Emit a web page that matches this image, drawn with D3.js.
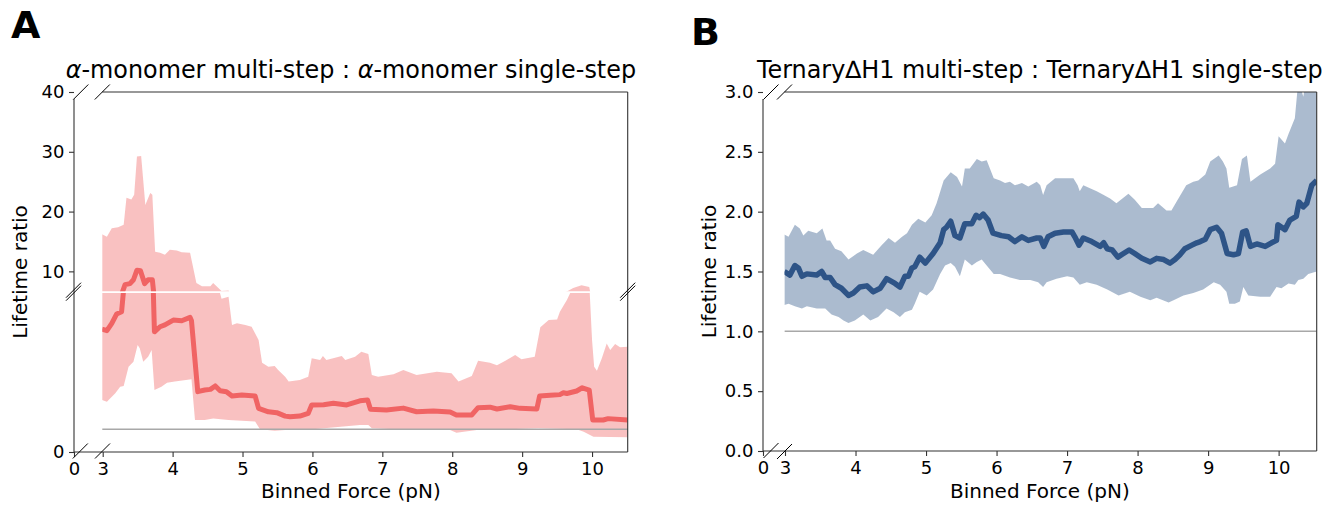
<!DOCTYPE html>
<html>
<head>
<meta charset="utf-8">
<script src="https://cdn.jsdelivr.net/npm/d3@7"></script>
<style>
  body { margin: 0; background: #fff; }
  svg { font-family: 'DejaVu Sans', sans-serif; }
  .axis .domain { display: none; }
  .axis .tick line { stroke: #333; stroke-width: 1.1; }
  .axis .tick text { font-size: 18px; fill: #000; font-family: 'DejaVu Sans', sans-serif; }
  .spine { stroke: #333; stroke-width: 1.1; fill: none; }
  .brk { stroke: #000; stroke-width: 1; }
  .lbl { font-size: 20px; fill: #000; }
  .ttl { font-size: 23.9px; fill: #000; }
  .letter { font-size: 38px; font-weight: bold; fill: #000; }
</style>
</head>
<body>
<script>

// ---- panel A: alpha-monomer ----
var aForceMean = [2.99, 3.06, 3.13, 3.20, 3.27, 3.32, 3.39, 3.44, 3.49, 3.54, 3.60, 3.65, 3.71, 3.74, 3.82, 3.89, 4.01, 4.13, 4.25, 4.27,
  4.36, 4.46, 4.54, 4.61, 4.68, 4.77, 4.85, 4.99, 5.18, 5.23, 5.37, 5.49, 5.61, 5.68, 5.82, 5.94, 5.99, 6.16, 6.30, 6.49,
  6.68, 6.79, 6.83, 7.06, 7.30, 7.49, 7.73, 7.97, 8.06, 8.28, 8.37, 8.54, 8.64, 8.83, 8.97, 9.21, 9.25, 9.40, 9.54, 9.59,
  9.64, 9.78, 9.86, 9.96, 10.01, 10.16, 10.23, 10.51];
var aMean = [5.37, 5.31, 5.63, 6.04, 6.14, 7.78, 7.95, 8.6, 10.2, 10.1, 7.95, 8.6, 8.6, 5.26, 5.48, 5.56, 5.77, 5.74, 5.89, 5.74,
  2.64, 2.71, 2.74, 2.89, 2.68, 2.64, 2.45, 2.49, 2.45, 1.91, 1.76, 1.72, 1.57, 1.54, 1.57, 1.69, 2.06, 2.07, 2.13, 2.06,
  2.24, 2.27, 1.87, 1.84, 1.92, 1.76, 1.79, 1.75, 1.62, 1.62, 1.94, 1.96, 1.88, 1.98, 1.91, 1.88, 2.45, 2.48, 2.51, 2.59,
  2.56, 2.67, 2.81, 2.71, 1.40, 1.40, 1.46, 1.40];

var aForceUpper = [2.99, 3.06, 3.13, 3.22, 3.30, 3.34, 3.41, 3.45, 3.49, 3.55, 3.61, 3.68, 3.71, 3.75, 3.82, 3.89, 3.96, 4.06, 4.13, 4.25,
  4.34, 4.42, 4.54, 4.58, 4.70, 4.80, 4.85, 4.92, 5.04, 5.13, 5.23, 5.28, 5.37, 5.46, 5.51, 5.61, 5.66, 5.82, 5.94, 5.99,
  6.11, 6.15, 6.20, 6.42, 6.47, 6.61, 6.70, 6.80, 6.85, 6.94, 7.16, 7.30, 7.49, 7.78, 7.99, 8.09, 8.28, 8.37, 8.54, 8.64,
  8.76, 8.90, 8.99, 9.18, 9.26, 9.38, 9.50, 9.54, 9.64, 9.73, 9.85, 9.96, 10.0, 10.03, 10.07, 10.14, 10.21, 10.26, 10.33, 10.40,
  10.51];
var aUpper = [16.2, 15.8, 17.2, 17.4, 17.8, 22.3, 22.0, 22.8, 29.2, 29.3, 21.1, 23.1, 22.8, 13.3, 13.1, 12.8, 13.6, 13.5, 13.2, 13.1,
  8.06, 7.5, 7.5, 8.06, 6.7, 6.79, 5.56, 5.63, 5.56, 5.48, 4.90, 3.91, 3.73, 3.76, 3.59, 3.29, 3.08, 3.15, 3.29, 4.10,
  4.02, 4.2, 4.02, 4.2, 4.02, 4.17, 4.39, 4.29, 3.37, 3.29, 3.40, 3.59, 3.37, 3.51, 3.44, 3.08, 3.32, 3.99, 3.91, 3.79,
  3.99, 4.24, 4.06, 4.17, 5.46, 5.77, 5.80, 6.14, 6.65, 7.23, 7.66, 7.39, 4.90, 3.73, 3.56, 4.10, 4.75, 4.46, 4.72, 4.58,
  4.61];

var aForceLower = [2.99, 3.06, 3.18, 3.25, 3.30, 3.37, 3.44, 3.50, 3.53, 3.58, 3.65, 3.70, 3.74, 3.84, 3.92, 4.03, 4.27, 4.32, 4.46, 4.58,
  4.80, 5.18, 5.25, 5.46, 5.61, 6.01, 6.68, 6.80, 6.85, 7.44, 7.97, 8.06, 8.35, 9.23, 9.78, 9.88, 10.02, 10.51];
var aLower = [2.27, 2.20, 2.57, 2.86, 2.89, 3.73, 3.95, 4.68, 4.54, 3.95, 4.17, 4.46, 2.71, 2.86, 3.03, 3.08, 3.18, 1.40, 1.40, 1.47,
  1.40, 1.33, 0.99, 0.93, 0.96, 0.99, 1.18, 1.18, 1.04, 0.96, 0.96, 0.84, 0.96, 1.04, 0.99, 0.89, 0.67, 0.64];

// ---- panel B: Ternary dH1 ----
var bForceMean = [2.99, 3.07, 3.14, 3.19, 3.24, 3.31, 3.45, 3.52, 3.57, 3.64, 3.71, 3.80, 3.90, 3.97, 4.06, 4.16, 4.25, 4.35, 4.44, 4.56,
  4.63, 4.70, 4.75, 4.80, 4.84, 4.91, 4.99, 5.10, 5.20, 5.25, 5.29, 5.35, 5.41, 5.48, 5.55, 5.65, 5.71, 5.76, 5.81, 5.88,
  5.95, 6.07, 6.17, 6.26, 6.36, 6.45, 6.57, 6.62, 6.67, 6.73, 6.83, 6.95, 7.07, 7.11, 7.17, 7.23, 7.35, 7.47, 7.52, 7.57,
  7.64, 7.72, 7.80, 7.88, 7.96, 8.06, 8.18, 8.27, 8.37, 8.46, 8.53, 8.60, 8.67, 8.77, 8.84, 8.89, 8.96, 9.03, 9.12, 9.19,
  9.27, 9.36, 9.43, 9.49, 9.54, 9.60, 9.69, 9.81, 9.90, 9.97, 9.99, 10.09, 10.16, 10.25, 10.29, 10.35, 10.40, 10.47, 10.54];
var bMean = [1.50, 1.47, 1.55, 1.53, 1.46, 1.48, 1.47, 1.50, 1.45, 1.45, 1.39, 1.36, 1.30, 1.32, 1.37, 1.38, 1.33, 1.36, 1.44, 1.40,
  1.37, 1.46, 1.46, 1.53, 1.54, 1.62, 1.57, 1.65, 1.74, 1.85, 1.87, 1.92, 1.80, 1.78, 1.90, 1.90, 1.97, 1.95, 1.98, 1.93,
  1.82, 1.80, 1.79, 1.75, 1.79, 1.76, 1.78, 1.78, 1.71, 1.79, 1.82, 1.83, 1.83, 1.79, 1.72, 1.78, 1.75, 1.71, 1.74, 1.69,
  1.68, 1.62, 1.65, 1.68, 1.65, 1.61, 1.58, 1.61, 1.60, 1.57, 1.60, 1.64, 1.69, 1.72, 1.74, 1.75, 1.77, 1.85, 1.87, 1.82,
  1.65, 1.64, 1.65, 1.83, 1.84, 1.71, 1.73, 1.71, 1.74, 1.76, 1.89, 1.85, 1.93, 1.96, 2.08, 2.04, 2.07, 2.22, 2.26];

var bForceUpper = [2.99, 3.05, 3.14, 3.21, 3.26, 3.33, 3.45, 3.53, 3.59, 3.64, 3.71, 3.80, 3.90, 4.02, 4.11, 4.25, 4.37, 4.47, 4.56, 4.66,
  4.73, 4.80, 4.89, 4.99, 5.08, 5.15, 5.25, 5.35, 5.44, 5.51, 5.55, 5.62, 5.72, 5.79, 5.86, 5.96, 6.05, 6.12, 6.19, 6.26,
  6.36, 6.45, 6.57, 6.62, 6.66, 6.71, 6.83, 7.09, 7.15, 7.18, 7.23, 7.42, 7.52, 7.61, 7.70, 7.87, 7.96, 8.06, 8.22, 8.29,
  8.41, 8.48, 8.55, 8.69, 8.79, 8.86, 8.96, 9.03, 9.15, 9.21, 9.26, 9.30, 9.41, 9.48, 9.55, 9.60, 9.74, 9.88, 9.95, 10.00,
  10.09, 10.14, 10.23, 10.28, 10.35, 10.40, 10.54];
var bUpper = [1.81, 1.79, 1.89, 1.86, 1.80, 1.84, 1.82, 1.86, 1.76, 1.76, 1.69, 1.67, 1.60, 1.65, 1.68, 1.64, 1.72, 1.78, 1.74, 1.79,
  1.82, 1.89, 1.94, 1.91, 1.97, 2.07, 2.26, 2.33, 2.29, 2.21, 2.36, 2.36, 2.44, 2.42, 2.43, 2.28, 2.26, 2.24, 2.25, 2.22,
  2.24, 2.21, 2.25, 2.22, 2.14, 2.22, 2.28, 2.28, 2.22, 2.17, 2.22, 2.17, 2.14, 2.11, 2.07, 2.15, 2.10, 2.03, 2.03, 2.07,
  2.01, 2.01, 2.08, 2.22, 2.25, 2.26, 2.31, 2.42, 2.47, 2.42, 2.36, 2.20, 2.22, 2.44, 2.47, 2.25, 2.31, 2.36, 2.40, 2.63,
  2.57, 2.65, 2.78, 3.10, 2.96, 3.15, 3.25];

var bForceLower = [2.99, 3.05, 3.14, 3.24, 3.31, 3.45, 3.57, 3.66, 3.76, 3.83, 3.90, 3.99, 4.11, 4.21, 4.32, 4.44, 4.54, 4.63, 4.70, 4.80,
  4.84, 4.91, 5.01, 5.10, 5.20, 5.27, 5.35, 5.41, 5.48, 5.55, 5.65, 5.72, 5.79, 5.86, 5.96, 6.05, 6.19, 6.33, 6.48, 6.59,
  6.66, 6.71, 6.85, 7.00, 7.09, 7.18, 7.28, 7.42, 7.57, 7.73, 7.89, 8.04, 8.18, 8.27, 8.44, 8.51, 8.65, 8.79, 8.93, 9.08,
  9.17, 9.26, 9.30, 9.38, 9.45, 9.50, 9.57, 9.74, 9.88, 9.97, 10.04, 10.14, 10.23, 10.28, 10.35, 10.42, 10.54];
var bLower = [1.22, 1.23, 1.21, 1.19, 1.21, 1.19, 1.19, 1.14, 1.12, 1.09, 1.07, 1.09, 1.14, 1.09, 1.12, 1.19, 1.16, 1.12, 1.16, 1.18,
  1.23, 1.33, 1.30, 1.35, 1.48, 1.55, 1.57, 1.54, 1.46, 1.60, 1.55, 1.58, 1.60, 1.55, 1.48, 1.48, 1.45, 1.43, 1.43, 1.41,
  1.37, 1.41, 1.44, 1.46, 1.45, 1.39, 1.41, 1.39, 1.35, 1.30, 1.33, 1.29, 1.26, 1.28, 1.24, 1.26, 1.30, 1.32, 1.35, 1.41,
  1.39, 1.33, 1.23, 1.23, 1.25, 1.37, 1.30, 1.29, 1.29, 1.37, 1.36, 1.40, 1.39, 1.43, 1.44, 1.48, 1.50];

var xTicks = [3, 4, 5, 6, 7, 8, 9, 10];
var xZeroTick = [0];
var aYTicksHigh = [10, 20, 30, 40];
var aYTicksLow = [0];
var bYTicks = [0, 0.5, 1, 1.5, 2, 2.5, 3];
var refRatio = 1;

var colorA = "#f06464";
var colorB = "#2e5487";

var svg = d3.select("body").append("svg")
    .attr("width", 1343)
    .attr("height", 507);
var defs = svg.append("defs");

function clipRect(id, x0, y0, x1, y1) {
  defs.append("clipPath").attr("id", id)
    .append("rect")
      .attr("x", x0).attr("y", y0)
      .attr("width", x1 - x0).attr("height", y1 - y0);
  return "url(#" + id + ")";
}

function band(xs, ys, fu, vu, fl, vl) {
  var pts = d3.zip(fu, vu).concat(d3.zip(fl, vl).reverse());
  return d3.line().x(function(d) { return xs(d[0]); }).y(function(d) { return ys(d[1]); })(pts) + "Z";
}

function meanLine(xs, ys, f, v) {
  return d3.line().x(function(d) { return xs(d[0]); }).y(function(d) { return ys(d[1]); })(d3.zip(f, v));
}

function slash(cx, cy) {
  svg.append("line").attr("class", "brk")
    .attr("x1", cx - 7.5).attr("y1", cy + 7.5)
    .attr("x2", cx + 7.5).attr("y2", cy - 7.5);
}

function spine(x1, y1, x2, y2) {
  svg.append("line").attr("class", "spine")
    .attr("x1", x1).attr("y1", y1).attr("x2", x2).attr("y2", y2);
}

// ================= panel A =================
var aL = 74, aR = 627.7, aT = 92, aB = 452, aBreak = 291.7;
var xA = d3.scaleLinear().domain([3, 10.51]).range([102.7, aR]);
var xA0 = d3.scaleLinear().domain([0, 1]).range([aL, aL + 8]);
var yAHigh = d3.scaleLinear().domain([6.6, 40]).range([aBreak, aT]);
var yALow = d3.scaleLinear().domain([0, 7]).range([aB, 292]);

var clipAHigh = clipRect("clipAHigh", 102.3, aT, aR, aBreak - 0.4);
var clipALow = clipRect("clipALow", 102.3, aBreak + 1.2, aR, aB);

[[yAHigh, clipAHigh], [yALow, clipALow]].forEach(function(p) {
  var g = svg.append("g").attr("clip-path", p[1]);
  g.append("path")
    .attr("d", band(xA, p[0], aForceUpper, aUpper, aForceLower, aLower))
    .attr("fill", colorA).attr("fill-opacity", 0.4);
  g.append("line")
    .attr("x1", xA(2.99)).attr("x2", aR)
    .attr("y1", p[0](refRatio)).attr("y2", p[0](refRatio))
    .attr("stroke", "#a8a8a8").attr("stroke-width", 1.5);
  g.append("path")
    .attr("d", meanLine(xA, p[0], aForceMean, aMean))
    .attr("fill", "none").attr("stroke", colorA)
    .attr("stroke-width", 5).attr("stroke-linejoin", "round");
});

svg.append("g").attr("class", "axis").attr("transform", "translate(0," + aB + ")")
    .call(d3.axisBottom(xA).tickValues(xTicks).tickSize(5).tickPadding(5.5).tickFormat(d3.format("d")));
svg.append("g").attr("class", "axis").attr("transform", "translate(0," + aB + ")")
    .call(d3.axisBottom(xA0).tickValues(xZeroTick).tickSize(5).tickPadding(5.5).tickFormat(d3.format("d")));
svg.append("g").attr("class", "axis").attr("transform", "translate(" + aL + ",0)")
    .call(d3.axisLeft(yAHigh).tickValues(aYTicksHigh).tickSize(5).tickPadding(4.5).tickFormat(d3.format("d")));
svg.append("g").attr("class", "axis").attr("transform", "translate(" + aL + ",0)")
    .call(d3.axisLeft(yALow).tickValues(aYTicksLow).tickSize(5).tickPadding(4.5).tickFormat(d3.format("d")));

spine(aL, 99, aL, aB);
spine(aL, aB, aR, aB);
spine(aR, aT, aR, aB);
spine(102.3, aT, aR, aT);

slash(80.8, aT); slash(102.3, aT);
slash(80.3, aB - 1); slash(102.5, aB - 1);
slash(aL - 0.5, aBreak - 1.5); slash(aL - 0.5, aBreak + 1.5);
slash(aR, aBreak - 1.5); slash(aR, aBreak + 1.5);

var titleA = svg.append("text").attr("class", "ttl")
    .attr("x", (aL + aR) / 2).attr("y", 78).attr("text-anchor", "middle");
titleA.append("tspan").attr("font-style", "italic").text("α");
titleA.append("tspan").text("-monomer multi-step : ");
titleA.append("tspan").attr("font-style", "italic").text("α");
titleA.append("tspan").text("-monomer single-step");

svg.append("text").attr("class", "lbl")
    .attr("x", (aL + aR) / 2).attr("y", 498).attr("text-anchor", "middle")
    .text("Binned Force (pN)");
svg.append("text").attr("class", "lbl")
    .attr("transform", "translate(27," + (aT + aB) / 2 + ") rotate(-90)")
    .attr("text-anchor", "middle")
    .text("Lifetime ratio");
svg.append("text").attr("class", "letter").attr("x", 11).attr("y", 38).text("A");

// ================= panel B =================
var bL = 763, bR = 1316.7, bT = 92, bB = 451;
var xB = d3.scaleLinear().domain([3, 10.54]).range([785, bR]);
var xB0 = d3.scaleLinear().domain([0, 1]).range([bL, bL + 8]);
var yB = d3.scaleLinear().domain([0, 3]).range([bB, bT]);

var clipB = clipRect("clipB", 784.5, bT, bR, bB);
var gB = svg.append("g").attr("clip-path", clipB);
gB.append("path")
  .attr("d", band(xB, yB, bForceUpper, bUpper, bForceLower, bLower))
  .attr("fill", colorB).attr("fill-opacity", 0.4);
gB.append("line")
  .attr("x1", xB(2.99)).attr("x2", bR)
  .attr("y1", yB(refRatio)).attr("y2", yB(refRatio))
  .attr("stroke", "#a8a8a8").attr("stroke-width", 1.5);
gB.append("path")
  .attr("d", meanLine(xB, yB, bForceMean, bMean))
  .attr("fill", "none").attr("stroke", colorB)
  .attr("stroke-width", 5.5).attr("stroke-linejoin", "round");

svg.append("g").attr("class", "axis").attr("transform", "translate(0," + bB + ")")
    .call(d3.axisBottom(xB).tickValues(xTicks).tickSize(5).tickPadding(5.5).tickFormat(d3.format("d")));
svg.append("g").attr("class", "axis").attr("transform", "translate(0," + bB + ")")
    .call(d3.axisBottom(xB0).tickValues(xZeroTick).tickSize(5).tickPadding(5.5).tickFormat(d3.format("d")));
svg.append("g").attr("class", "axis").attr("transform", "translate(" + bL + ",0)")
    .call(d3.axisLeft(yB).tickValues(bYTicks).tickSize(5).tickPadding(4.5).tickFormat(d3.format(".1f")));

spine(bL, 99, bL, bB);
spine(bL, bB, bR, bB);
spine(bR, bT, bR, bB);
spine(784.5, bT, bR, bT);

slash(771, bT); slash(784.5, bT);
slash(771, bB - 0.5); slash(784.5, bB + 0.5);

svg.append("text").attr("class", "ttl")
    .attr("x", (bL + bR) / 2).attr("y", 78).attr("text-anchor", "middle")
    .text("Ternary\u2206H1 multi-step : Ternary\u2206H1 single-step");
svg.append("text").attr("class", "lbl")
    .attr("x", (bL + bR) / 2).attr("y", 498).attr("text-anchor", "middle")
    .text("Binned Force (pN)");
svg.append("text").attr("class", "lbl")
    .attr("transform", "translate(716," + (bT + bB) / 2 + ") rotate(-90)")
    .attr("text-anchor", "middle")
    .text("Lifetime ratio");
svg.append("text").attr("class", "letter").attr("x", 691).attr("y", 45).text("B");

</script>
</body>
</html>
